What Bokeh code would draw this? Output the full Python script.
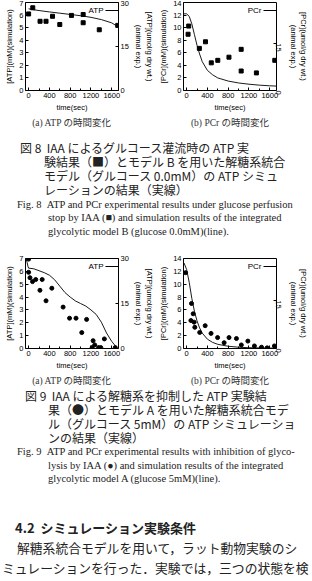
import math
from bokeh.plotting import figure
from bokeh.models import Range1d, LinearAxis, FixedTicker, Title, Label, Arrow, Div
from bokeh.layouts import column, row
from bokeh.embed import file_html
from bokeh.resources import INLINE

# ---------------- data ----------------
x_major = [0, 400, 800, 1200, 1600]
x_minor = [200, 600, 1000, 1400]

# Fig 8 (a) ATP: simulation [mM] and animal experiment [umol/g dry wt.]
atp8_sim_t = [0, 100, 200, 400, 600, 800, 1000, 1200, 1400, 1600, 1700, 1730]
atp8_sim_v = [6.5, 6.42, 6.36, 6.25, 6.15, 6.05, 5.95, 5.82, 5.64, 5.38, 5.12, 5.0]
atp8_exp_t = [0, 80, 220, 335, 460, 600, 825, 1050, 1050, 1360, 1715]
atp8_exp_v = [26.1, 28.2, 23.6, 23.6, 25.3, 22.5, 25.6, 25.9, 23.1, 20.7, 22.2]

# Fig 8 (b) PCr
pcr8_sim_t = [-60, 0, 50, 100, 150, 200, 250, 300, 400, 500, 600, 800, 1000, 1200, 1400, 1600, 1730]
pcr8_sim_v = [12.2, 12.2, 11.8, 10.6, 8.9, 7.2, 5.8, 4.6, 3.2, 2.5, 2.0, 1.5, 1.2, 1.0, 0.85, 0.75, 0.7]
pcr8_exp_t = [40, 28, 245, 363, 475, 600, 815, 1050, 1050, 1343, 1697]
pcr8_exp_v = [20.5, 17.9, 13.4, 15.5, 8.8, 9.6, 10.6, 13.1, 6.2, 5.6, 9.6]

# Fig 9 (a) ATP
atp9_sim_t = [-50, -30, -10, 0, 100, 200, 300, 400, 500, 600, 700, 800, 900, 1000,
              1100, 1200, 1300, 1400, 1500, 1600, 1700]
atp9_sim_v = [7.0, 6.7, 6.35, 6.25, 6.2, 6.05, 5.9, 5.7, 5.35, 4.85, 4.35, 4.0, 3.7, 3.5,
              3.3, 3.0, 2.65, 2.05, 1.2, 0.55, 0.05]
atp9_exp_t = [0, 0, 26, 75, 137, 218, 261, 335, 447, 664, 788, 912, 1023, 1116, 1241,
              1272, 1222, 1346, 1389, 1458, 1668]
atp9_exp_v = [29.8, 25.4, 23.6, 22.3, 23.0, 19.4, 23.0, 15.9, 20.1, 13.8, 10.1, 10.1, 5.3,
              9.7, 2.6, 1.2, 0.3, 0.3, 0.3, 3.2, 0.3]

# Fig 9 (b) PCr
pcr9_sim_t = [-50, 0, 50, 100, 150, 200, 250, 300, 400, 500, 600, 800, 1000, 1200, 1500, 1730]
pcr9_sim_v = [13.3, 12.3, 10.3, 7.8, 5.8, 4.3, 3.2, 2.4, 1.45, 0.95, 0.65, 0.35, 0.2, 0.12, 0.08, 0.06]
pcr9_exp_t = [-20, 94, 126, 83, 145, 158, 252, 357, 470, 596, 722, 816, 959, 1053, 1179,
              1305, 1442, 1550, 1690]
pcr9_exp_v = [23.6, 14.0, 10.8, 8.7, 8.2, 6.6, 5.0, 7.1, 4.7, 3.4, 1.8, 3.4, 3.1, 1.1, 2.3,
              0.8, 0.4, 0.2, 0.8]

SANS = "Liberation Sans"
CAP_FONT = "Liberation Serif, Noto Sans CJK JP"
JP = "'Noto Sans CJK JP'"
SERIF = "'Liberation Serif'"

BL, BR, BB = 25, 36, 38


def style_axis(ax):
    ax.axis_line_color = None
    ax.major_tick_in = 3
    ax.major_tick_out = 0
    ax.minor_tick_in = 2
    ax.minor_tick_out = 0
    ax.major_tick_line_color = "black"
    ax.minor_tick_line_color = "black"
    ax.major_label_text_font = SANS
    ax.major_label_text_font_size = "7.5px"
    ax.major_label_text_color = "black"
    ax.major_label_standoff = 2
    ax.axis_label_text_font = SANS
    ax.axis_label_text_font_size = "7.5px"
    ax.axis_label_text_font_style = "normal"
    ax.axis_label_text_color = "black"
    ax.axis_label_standoff = 2


def make_chart(name, left_max, left_step, right_max, right_ticks, rot_right,
               sim_t, sim_v, exp_t, exp_v, marker, caption, top, height):
    p = figure(width=156, height=height, x_range=Range1d(-60, 1730),
               y_range=Range1d(0, left_max), output_backend="svg",
               toolbar_location=None, title=None,
               min_border_left=BL, min_border_right=BR,
               min_border_top=top, min_border_bottom=BB)
    p.extra_y_ranges = {"exp": Range1d(0, right_max)}
    p.grid.visible = False
    p.outline_line_color = "black"
    p.outline_line_width = 1
    p.background_fill_color = "white"
    p.border_fill_color = "white"

    p.xaxis.ticker = FixedTicker(ticks=x_major, minor_ticks=x_minor)
    p.xaxis.axis_label = "time(sec)"
    p.yaxis.ticker = FixedTicker(ticks=list(range(0, left_max + 1, left_step)), minor_ticks=[])
    p.yaxis.axis_label = "[%s](mM)(simulation)" % name
    style_axis(p.xaxis[0])
    style_axis(p.yaxis[0])

    rax = LinearAxis(y_range_name="exp", ticker=FixedTicker(ticks=right_ticks, minor_ticks=[]),
                     axis_label="[%s](umol/g dry wt.)\n(animal exp.)" % name)
    style_axis(rax)
    if rot_right:
        rax.major_label_orientation = -math.pi / 2
    p.add_layout(rax, "right")

    p.line(sim_t, sim_v, line_color="#1a1a1a", line_width=1)
    p.scatter(exp_t, exp_v, y_range_name="exp", marker=marker, size=4,
              fill_color="black", line_color="black")

    fh = height - top - BB
    p.add_layout(Label(x=78, y=fh - 8, x_units="screen", y_units="screen", text=name,
                       text_font=SANS, text_font_size="8px", text_align="right",
                       text_baseline="middle", text_color="black"))
    p.add_layout(Arrow(x_start=80, y_start=fh - 8, x_end=93, y_end=fh - 8,
                       start_units="screen", end_units="screen", start=None, end=None,
                       line_color="black", line_width=1))

    p.add_layout(Title(text=caption, align="center", text_font=CAP_FONT,
                       text_font_size="9.5px", text_font_style="normal",
                       text_color="#333333", offset=5, standoff=2), "below")
    return p


p8a = make_chart("ATP", 7, 1, 30, [0, 15, 30], False, atp8_sim_t, atp8_sim_v,
                 atp8_exp_t, atp8_exp_v, "square", "(a) ATP の時間変化", 2, 128)
p8b = make_chart("PCr", 14, 2, 28, [0, 15], True, pcr8_sim_t, pcr8_sim_v,
                 pcr8_exp_t, pcr8_exp_v, "square", "(b) PCr の時間変化", 2, 128)
p9a = make_chart("ATP", 7, 1, 30, [0, 15, 30], False, atp9_sim_t, atp9_sim_v,
                 atp9_exp_t, atp9_exp_v, "circle", "(a) ATP の時間変化", 4, 132)
p9b = make_chart("PCr", 14, 2, 28, [0, 15], True, pcr9_sim_t, pcr9_sim_v,
                 pcr9_exp_t, pcr9_exp_v, "circle", "(b) PCr の時間変化", 4, 132)


def line(center, left, text, size, lh, font, extra=""):
    top = center - lh / 2.0
    return ('<div style="position:absolute;top:%.1fpx;left:%dpx;white-space:nowrap;'
            'font-size:%.1fpx;line-height:%dpx;font-family:%s;color:#222;%s">%s</div>'
            % (top, left, size, lh, font, extra, text))


cap1 = [
    line(20, 20, "図 8 &nbsp;IAA によるグルコース灌流時の ATP 実", 12, 14, JP),
    line(34, 44, "験結果（■）とモデル B を用いた解糖系統合", 12, 14, JP),
    line(48, 44, "モデル（グルコース 0.0mM）の ATP シミュ", 12, 14, JP),
    line(62, 44, "レーションの結果（実線）", 12, 14, JP),
    line(77, 17, "Fig. 8 &nbsp;ATP and PCr experimental results under glucose perfusion", 10.5, 12, SERIF),
    line(90, 48, "stop by IAA (■) and simulation results of the integrated", 10.5, 12, SERIF),
    line(104, 48, "glycolytic model B (glucose 0.0mM)(line).", 10.5, 12, SERIF),
]
div1 = Div(text='<div style="position:relative;width:312px;height:126px;background:white;">'
           + "".join(cap1) + "</div>", width=312, height=126, margin=(0, 0, 0, 0))

cap2 = [
    line(10, 25, "図 9 &nbsp;IAA による解糖系を抑制した ATP 実験結", 12, 14, JP),
    line(24, 48, "果（●）とモデル A を用いた解糖系統合モデ", 12, 14, JP),
    line(38, 48, "ル（グルコース 5mM）の ATP シミュレーショ", 12, 14, JP),
    line(52, 48, "ンの結果（実線）", 12, 14, JP),
    line(66, 17, "Fig. 9 &nbsp;ATP and PCr experimental results with inhibition of glyco-", 10.5, 12, SERIF),
    line(80, 48, "lysis by IAA (●) and simulation results of the integrated", 10.5, 12, SERIF),
    line(93, 48, "glycolytic model A (glucose 5mM)(line).", 10.5, 12, SERIF),
    line(142, 15, "4.2 &nbsp;シミュレーション実験条件", 13, 16, JP, "font-weight:bold;"),
    line(162, 17, "解糖系統合モデルを用いて，ラット動物実験のシ", 12.8, 16, JP),
    line(182, 2, "ミュレーションを行った．実験では，三つの状態を検", 12.8, 16, JP),
]
div2 = Div(text='<div style="position:relative;width:312px;height:195px;background:white;overflow:hidden;">'
           + "".join(cap2) + "</div>", width=312, height=195, margin=(0, 0, 0, 0))

layout = column(row(p8a, p8b), div1, row(p9a, p9b), div2)

html = file_html(layout, INLINE, title="chart")
html = html.replace("<head>", "<head><style>html,body{margin:0;padding:0;background:white;}</style>", 1)
open("out.html", "w").write(html)
